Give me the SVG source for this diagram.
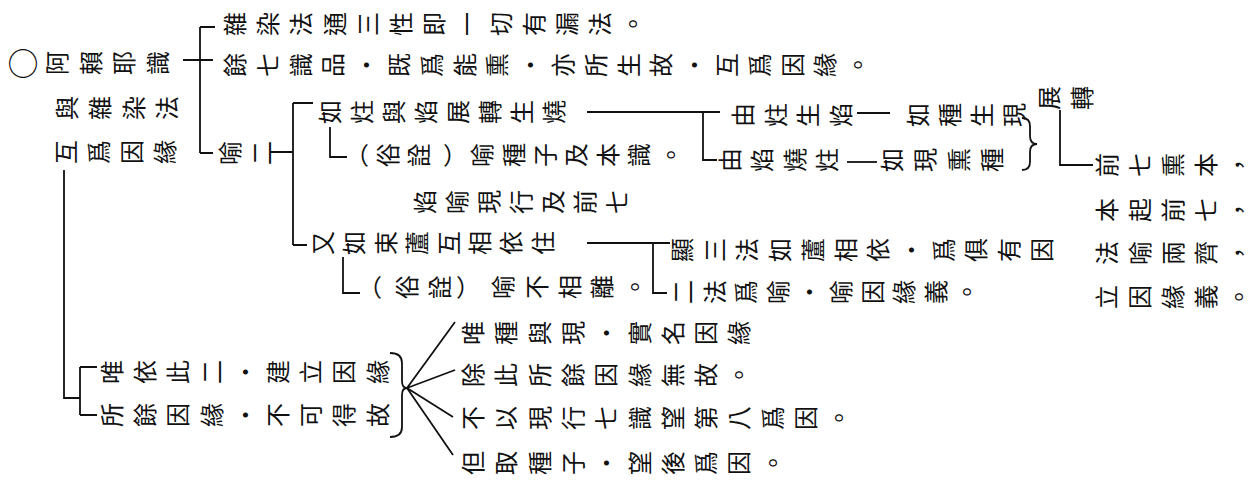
<svg xmlns="http://www.w3.org/2000/svg" width="1254" height="484" viewBox="0 0 1254 484">
<style>
text{font-family:"Noto Sans CJK TC","Noto Sans CJK SC",sans-serif;font-size:24px;fill:#111;text-anchor:middle}
.c{stroke:#111;stroke-width:1.8;fill:none}
</style>
<rect width="1254" height="484" fill="#fff"/>
<g id="connectors" class="c">
<path d="M183,60H213M200,27V153M200,27H215M200,153H213"/>
<path d="M270,152H293M293,103V245M293,103H313M293,245H307"/>
<path d="M330,127V157H347"/>
<path d="M587,112H720M703,112V160H717"/>
<path d="M857,113H890"/>
<path d="M847,162H877"/>
<path d="M1022,118q8,0 8,8v10q0,8 7,8q-7,0 -7,8v10q0,8 -8,8"/>
<path d="M1060,110V165H1093"/>
<path d="M587,243H670M653,243V293H667"/>
<path d="M343,257V293H360"/>
<path d="M64,170V398H80M80,367V415M80,367H97M80,415H97"/>
<path d="M390,353q12,0 12,10v18q0,7 5,7q-5,0 -5,7v32q0,10 -12,10"/>
<path d="M407,388L455,322M407,388L455,370M407,388L453,417M407,388L453,455"/>
</g>
<g id="root">
<text x="23" y="74.8" style="font-size:31px">○</text>
<g transform="translate(66,63)"><text transform="matrix(0,-1,1,0,0,0)">阿</text><text transform="matrix(0,-1,1,0,33.5,0)">賴</text><text transform="matrix(0,-1,1,0,67,0)">耶</text><text transform="matrix(0,-1,1,0,100.5,0)">識</text></g>
<g transform="translate(76,108)"><text transform="matrix(0,-1,1,0,0,0)">與</text><text transform="matrix(0,-1,1,0,33.3,0)">雜</text><text transform="matrix(0,-1,1,0,66.6,0)">染</text><text transform="matrix(0,-1,1,0,99.9,0)">法</text></g>
<g transform="translate(75,152)"><text transform="matrix(0,-1,1,0,0,0)">互</text><text transform="matrix(0,-1,1,0,33,0)">爲</text><text transform="matrix(0,-1,1,0,66,0)">因</text><text transform="matrix(0,-1,1,0,99,0)">緣</text></g>
</g>
<g id="n-zaran" transform="translate(244,24)">
<text transform="matrix(0,-1,1,0,0,0)">雜</text><text transform="matrix(0,-1,1,0,33.2,0)">染</text><text transform="matrix(0,-1,1,0,66.4,0)">法</text><text transform="matrix(0,-1,1,0,99.6,0)">通</text><text transform="matrix(0,-1,1,0,132.8,0)">三</text><text transform="matrix(0,-1,1,0,166,0)">性</text><text transform="matrix(0,-1,1,0,199.2,0)">即</text><text transform="matrix(0,-1,1,0,232.4,0)">一</text><text transform="matrix(0,-1,1,0,265.6,0)">切</text><text transform="matrix(0,-1,1,0,298.8,0)">有</text><text transform="matrix(0,-1,1,0,332,0)">漏</text><text transform="matrix(0,-1,1,0,365.2,0)">法</text><text transform="matrix(0,-1,1,0,398.4,0)">。</text>
</g>
<g id="n-yuqi" transform="translate(244,65)">
<text transform="matrix(0,-1,1,0,0,0)">餘</text><text transform="matrix(0,-1,1,0,32.8,0)">七</text><text transform="matrix(0,-1,1,0,65.6,0)">識</text><text transform="matrix(0,-1,1,0,98.4,0)">品</text><text transform="matrix(0,-1,1,0,131.2,0)">・</text><text transform="matrix(0,-1,1,0,164,0)">既</text><text transform="matrix(0,-1,1,0,196.8,0)">爲</text><text transform="matrix(0,-1,1,0,229.6,0)">能</text><text transform="matrix(0,-1,1,0,262.4,0)">熏</text><text transform="matrix(0,-1,1,0,295.2,0)">・</text><text transform="matrix(0,-1,1,0,328,0)">亦</text><text transform="matrix(0,-1,1,0,360.8,0)">所</text><text transform="matrix(0,-1,1,0,393.6,0)">生</text><text transform="matrix(0,-1,1,0,426.4,0)">故</text><text transform="matrix(0,-1,1,0,459.2,0)">・</text><text transform="matrix(0,-1,1,0,492,0)">互</text><text transform="matrix(0,-1,1,0,524.8,0)">爲</text><text transform="matrix(0,-1,1,0,557.6,0)">因</text><text transform="matrix(0,-1,1,0,590.4,0)">緣</text><text transform="matrix(0,-1,1,0,623.2,0)">。</text>
</g>
<g id="n-yuer" transform="translate(239,153)">
<text transform="matrix(0,-1,1,0,0,0)">喻</text><text transform="matrix(0,-1,1,0,32,0)">二</text>
</g>
<g id="n-ruzhu">
<g transform="translate(339,112)"><text transform="matrix(0,-1,1,0,0,0)">如</text><text transform="matrix(0,-1,1,0,32,0)">炷</text><text transform="matrix(0,-1,1,0,64,0)">與</text><text transform="matrix(0,-1,1,0,96,0)">焰</text><text transform="matrix(0,-1,1,0,128,0)">展</text><text transform="matrix(0,-1,1,0,160,0)">轉</text><text transform="matrix(0,-1,1,0,192,0)">生</text><text transform="matrix(0,-1,1,0,224,0)">燒</text></g>
<g transform="translate(0,155)"><text x="357" y="9">（</text><text transform="matrix(0,-1,1,0,397,0)">俗</text><text transform="matrix(0,-1,1,0,428.4,0)">詮</text><text x="455" y="9">）</text><text transform="matrix(0,-1,1,0,491.2,0)">喻</text><text transform="matrix(0,-1,1,0,522.6,0)">種</text><text transform="matrix(0,-1,1,0,554,0)">子</text><text transform="matrix(0,-1,1,0,585.4,0)">及</text><text transform="matrix(0,-1,1,0,616.8,0)">本</text><text transform="matrix(0,-1,1,0,648.2,0)">識</text><text transform="matrix(0,-1,1,0,679.6,0)">。</text></g>
<g transform="translate(434,202)"><text transform="matrix(0,-1,1,0,0,0)">焰</text><text transform="matrix(0,-1,1,0,32,0)">喻</text><text transform="matrix(0,-1,1,0,64,0)">現</text><text transform="matrix(0,-1,1,0,96,0)">行</text><text transform="matrix(0,-1,1,0,128,0)">及</text><text transform="matrix(0,-1,1,0,160,0)">前</text><text transform="matrix(0,-1,1,0,192,0)">七</text></g>
</g>
<g id="n-youzhu">
<g transform="translate(752,115)"><text transform="matrix(0,-1,1,0,0,0)">由</text><text transform="matrix(0,-1,1,0,32.5,0)">炷</text><text transform="matrix(0,-1,1,0,65,0)">生</text><text transform="matrix(0,-1,1,0,97.5,0)">焰</text></g>
<g transform="translate(927,115)"><text transform="matrix(0,-1,1,0,0,0)">如</text><text transform="matrix(0,-1,1,0,32,0)">種</text><text transform="matrix(0,-1,1,0,64,0)">生</text><text transform="matrix(0,-1,1,0,96,0)">現</text></g>
</g>
<g id="n-youyan">
<g transform="translate(739,160)"><text transform="matrix(0,-1,1,0,0,0)">由</text><text transform="matrix(0,-1,1,0,32.3,0)">焰</text><text transform="matrix(0,-1,1,0,64.6,0)">燒</text><text transform="matrix(0,-1,1,0,96.9,0)">炷</text></g>
<g transform="translate(901,160)"><text transform="matrix(0,-1,1,0,0,0)">如</text><text transform="matrix(0,-1,1,0,33.3,0)">現</text><text transform="matrix(0,-1,1,0,66.6,0)">熏</text><text transform="matrix(0,-1,1,0,99.9,0)">種</text></g>
</g>
<g id="n-zhanzhuan" transform="translate(1058,98)">
<text transform="matrix(0,-1,1,0,0,0)">展</text><text transform="matrix(0,-1,1,0,33,0)">轉</text>
</g>
<g id="n-qianqi">
<g transform="translate(1116,165)"><text transform="matrix(0,-1,1,0,0,0)">前</text><text transform="matrix(0,-1,1,0,33,0)">七</text><text transform="matrix(0,-1,1,0,66,0)">熏</text><text transform="matrix(0,-1,1,0,99,0)">本</text><text transform="matrix(0,-1,1,0,132,0)">，</text></g>
<g transform="translate(1116,210)"><text transform="matrix(0,-1,1,0,0,0)">本</text><text transform="matrix(0,-1,1,0,33,0)">起</text><text transform="matrix(0,-1,1,0,66,0)">前</text><text transform="matrix(0,-1,1,0,99,0)">七</text><text transform="matrix(0,-1,1,0,132,0)">，</text></g>
<g transform="translate(1116,253)"><text transform="matrix(0,-1,1,0,0,0)">法</text><text transform="matrix(0,-1,1,0,33,0)">喻</text><text transform="matrix(0,-1,1,0,66,0)">兩</text><text transform="matrix(0,-1,1,0,99,0)">齊</text><text transform="matrix(0,-1,1,0,132,0)">，</text></g>
<g transform="translate(1116,297)"><text transform="matrix(0,-1,1,0,0,0)">立</text><text transform="matrix(0,-1,1,0,33,0)">因</text><text transform="matrix(0,-1,1,0,66,0)">緣</text><text transform="matrix(0,-1,1,0,99,0)">義</text><text transform="matrix(0,-1,1,0,132,0)">。</text></g>
</g>
<g id="n-shulu">
<g transform="translate(332,243)"><text transform="matrix(0,-1,1,0,0,0)">又</text><text transform="matrix(0,-1,1,0,31.4,0)">如</text><text transform="matrix(0,-1,1,0,62.8,0)">束</text><text transform="matrix(0,-1,1,0,94.2,0)">蘆</text><text transform="matrix(0,-1,1,0,125.6,0)">互</text><text transform="matrix(0,-1,1,0,157,0)">相</text><text transform="matrix(0,-1,1,0,188.4,0)">依</text><text transform="matrix(0,-1,1,0,219.8,0)">住</text></g>
<g transform="translate(0,287)"><text x="370" y="9">（</text><text transform="matrix(0,-1,1,0,416,0)">俗</text><text transform="matrix(0,-1,1,0,449,0)">詮</text><text x="468" y="9">）</text><text transform="matrix(0,-1,1,0,512,0)">喻</text><text transform="matrix(0,-1,1,0,546,0)">不</text><text transform="matrix(0,-1,1,0,579,0)">相</text><text transform="matrix(0,-1,1,0,611,0)">離</text><text transform="matrix(0,-1,1,0,644,0)">。</text></g>
</g>
<g id="n-xian">
<g transform="translate(691,250)"><text transform="matrix(0,-1,1,0,0,0)">顯</text><text transform="matrix(0,-1,1,0,32.7,0)">三</text><text transform="matrix(0,-1,1,0,65.4,0)">法</text><text transform="matrix(0,-1,1,0,98.1,0)">如</text><text transform="matrix(0,-1,1,0,130.8,0)">蘆</text><text transform="matrix(0,-1,1,0,163.5,0)">相</text><text transform="matrix(0,-1,1,0,196.2,0)">依</text><text transform="matrix(0,-1,1,0,228.9,0)">・</text><text transform="matrix(0,-1,1,0,261.6,0)">爲</text><text transform="matrix(0,-1,1,0,294.3,0)">俱</text><text transform="matrix(0,-1,1,0,327,0)">有</text><text transform="matrix(0,-1,1,0,359.7,0)">因</text></g>
<g transform="translate(692,292)"><text transform="matrix(0,-1,1,0,0,0)">二</text><text transform="matrix(0,-1,1,0,31.6,0)">法</text><text transform="matrix(0,-1,1,0,63.2,0)">爲</text><text transform="matrix(0,-1,1,0,94.8,0)">喻</text><text transform="matrix(0,-1,1,0,126.4,0)">・</text><text transform="matrix(0,-1,1,0,158,0)">喻</text><text transform="matrix(0,-1,1,0,189.6,0)">因</text><text transform="matrix(0,-1,1,0,221.2,0)">緣</text><text transform="matrix(0,-1,1,0,252.8,0)">義</text><text transform="matrix(0,-1,1,0,284.4,0)">。</text></g>
</g>
<g id="n-weiyi">
<g transform="translate(121,372)"><text transform="matrix(0,-1,1,0,0,0)">唯</text><text transform="matrix(0,-1,1,0,33.2,0)">依</text><text transform="matrix(0,-1,1,0,66.4,0)">此</text><text transform="matrix(0,-1,1,0,99.6,0)">二</text><text transform="matrix(0,-1,1,0,132.8,0)">・</text><text transform="matrix(0,-1,1,0,166,0)">建</text><text transform="matrix(0,-1,1,0,199.2,0)">立</text><text transform="matrix(0,-1,1,0,232.4,0)">因</text><text transform="matrix(0,-1,1,0,265.6,0)">緣</text></g>
<g transform="translate(121,415)"><text transform="matrix(0,-1,1,0,0,0)">所</text><text transform="matrix(0,-1,1,0,33.2,0)">餘</text><text transform="matrix(0,-1,1,0,66.4,0)">因</text><text transform="matrix(0,-1,1,0,99.6,0)">緣</text><text transform="matrix(0,-1,1,0,132.8,0)">・</text><text transform="matrix(0,-1,1,0,166,0)">不</text><text transform="matrix(0,-1,1,0,199.2,0)">可</text><text transform="matrix(0,-1,1,0,232.4,0)">得</text><text transform="matrix(0,-1,1,0,265.6,0)">故</text></g>
</g>
<g id="n-weizhong" transform="translate(482,333)">
<text transform="matrix(0,-1,1,0,0,0)">唯</text><text transform="matrix(0,-1,1,0,33.3,0)">種</text><text transform="matrix(0,-1,1,0,66.6,0)">與</text><text transform="matrix(0,-1,1,0,99.9,0)">現</text><text transform="matrix(0,-1,1,0,133.2,0)">・</text><text transform="matrix(0,-1,1,0,166.5,0)">實</text><text transform="matrix(0,-1,1,0,199.8,0)">名</text><text transform="matrix(0,-1,1,0,233.1,0)">因</text><text transform="matrix(0,-1,1,0,266.4,0)">緣</text>
</g>
<g id="n-chuci" transform="translate(482,375)">
<text transform="matrix(0,-1,1,0,0,0)">除</text><text transform="matrix(0,-1,1,0,33.3,0)">此</text><text transform="matrix(0,-1,1,0,66.6,0)">所</text><text transform="matrix(0,-1,1,0,99.9,0)">餘</text><text transform="matrix(0,-1,1,0,133.2,0)">因</text><text transform="matrix(0,-1,1,0,166.5,0)">緣</text><text transform="matrix(0,-1,1,0,199.8,0)">無</text><text transform="matrix(0,-1,1,0,233.1,0)">故</text><text transform="matrix(0,-1,1,0,266.4,0)">。</text>
</g>
<g id="n-buyi" transform="translate(482,418)">
<text transform="matrix(0,-1,1,0,0,0)">不</text><text transform="matrix(0,-1,1,0,33.3,0)">以</text><text transform="matrix(0,-1,1,0,66.6,0)">現</text><text transform="matrix(0,-1,1,0,99.9,0)">行</text><text transform="matrix(0,-1,1,0,133.2,0)">七</text><text transform="matrix(0,-1,1,0,166.5,0)">識</text><text transform="matrix(0,-1,1,0,199.8,0)">望</text><text transform="matrix(0,-1,1,0,233.1,0)">第</text><text transform="matrix(0,-1,1,0,266.4,0)">八</text><text transform="matrix(0,-1,1,0,299.7,0)">爲</text><text transform="matrix(0,-1,1,0,333,0)">因</text><text transform="matrix(0,-1,1,0,366.3,0)">。</text>
</g>
<g id="n-danqu" transform="translate(482,463)">
<text transform="matrix(0,-1,1,0,0,0)">但</text><text transform="matrix(0,-1,1,0,33.3,0)">取</text><text transform="matrix(0,-1,1,0,66.6,0)">種</text><text transform="matrix(0,-1,1,0,99.9,0)">子</text><text transform="matrix(0,-1,1,0,133.2,0)">・</text><text transform="matrix(0,-1,1,0,166.5,0)">望</text><text transform="matrix(0,-1,1,0,199.8,0)">後</text><text transform="matrix(0,-1,1,0,233.1,0)">爲</text><text transform="matrix(0,-1,1,0,266.4,0)">因</text><text transform="matrix(0,-1,1,0,299.7,0)">。</text>
</g>
</svg>
